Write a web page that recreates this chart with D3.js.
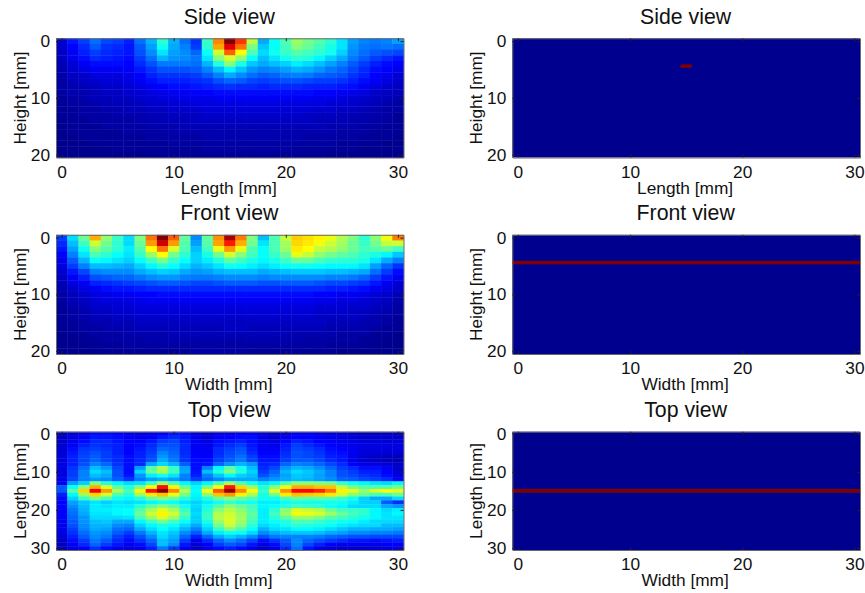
<!DOCTYPE html>
<html><head><meta charset="utf-8">
<script src="https://cdn.jsdelivr.net/npm/d3@7"></script>
<style>html,body{margin:0;padding:0;background:#fff}svg{display:block}text{font-family:"Liberation Sans",Arial,sans-serif;fill:#111}</style>
</head><body>
<svg id="c" width="865" height="593"></svg>
<script>
const sideView = [
[7,13,17,22,18,17,14,22,29,41,29,22,16,42,74,100,82,55,28,37,44,52,48,45,41,34,27,24,23,24,27],
[6,11,15,20,16,15,13,20,27,38,28,24,17,41,71,90,76,49,31,37,43,50,47,43,39,34,26,23,22,23,22],
[5,10,14,17,15,14,13,19,25,34,27,25,21,37,57,78,62,44,33,38,42,45,43,41,38,32,25,22,20,19,18],
[5,9,12,15,14,13,12,17,22,29,26,25,23,34,50,58,51,37,30,34,38,41,40,36,32,28,23,20,17,15,13],
[4,7,10,12,12,12,11,15,19,23,23,23,22,29,40,50,39,31,28,30,32,35,33,30,27,24,20,17,14,12,11],
[3,6,8,10,10,10,10,13,16,19,19,19,20,24,30,36,31,26,24,25,27,29,28,26,23,21,18,15,12,11,9],
[3,5,6,8,8,8,9,11,14,16,16,16,17,20,24,28,25,22,20,21,23,24,23,21,20,19,16,14,11,9,7],
[2,4,5,6,7,7,8,10,12,14,14,14,15,16,19,21,20,18,17,18,19,19,18,17,17,16,14,12,10,8,6],
[2,3,4,5,6,6,7,8,10,11,12,12,13,14,15,16,15,15,14,15,15,15,14,14,14,13,12,10,8,6,5],
[2,3,3,4,5,5,6,7,8,9,10,10,11,11,12,12,12,12,12,12,12,12,12,11,11,10,9,8,6,5,4],
[1,2,3,4,4,5,5,6,7,8,8,9,9,9,10,10,10,10,10,10,10,10,10,9,9,8,7,6,5,4,3],
[1,2,2,3,4,4,4,5,6,6,7,7,8,8,8,8,8,8,8,8,8,8,8,8,7,7,6,5,4,3,2],
[1,1,2,2,3,3,4,4,5,5,6,6,6,7,7,7,7,7,7,7,7,7,7,6,6,5,5,4,3,2,2],
[1,1,2,2,2,3,3,3,4,4,5,5,5,6,6,6,6,6,6,6,6,6,5,5,5,4,4,3,3,2,1],
[1,1,1,2,2,2,2,3,3,4,4,4,5,5,5,5,5,5,5,5,5,5,5,4,4,4,3,3,2,2,1],
[0,1,1,1,2,2,2,2,3,3,3,4,4,4,4,4,4,4,4,4,4,4,4,4,3,3,3,2,2,1,1],
[0,1,1,1,1,1,2,2,2,2,3,3,3,3,3,3,3,3,3,3,3,3,3,3,3,2,2,2,1,1,1],
[0,0,1,1,1,1,1,1,2,2,2,2,2,3,3,3,3,3,3,3,3,3,2,2,2,2,2,1,1,1,0],
[0,0,0,1,1,1,1,1,1,1,2,2,2,2,2,2,2,2,2,2,2,2,2,2,2,1,1,1,1,0,0],
[0,0,0,0,0,1,1,1,1,1,1,1,1,2,2,2,2,2,2,2,2,1,1,1,1,1,1,0,0,0,0],
[0,0,0,0,0,0,0,0,0,1,1,1,1,1,1,1,1,1,1,1,1,1,1,1,0,0,0,0,0,0,0]
];
const frontView = [
[17,33,47,70,51,42,33,49,76,100,78,46,25,46,73,96,75,49,30,44,56,67,65,63,60,54,49,41,50,61,75],
[15,30,43,57,48,41,33,47,72,92,72,45,27,45,71,85,70,48,34,44,53,66,64,61,57,53,47,42,48,56,57],
[13,27,38,50,45,41,35,45,62,76,58,44,30,43,60,72,60,44,37,44,52,64,62,56,54,51,47,43,45,47,43],
[11,24,34,44,41,37,34,42,52,62,48,41,32,39,48,58,50,43,37,42,47,60,56,51,48,46,44,41,39,36,31],
[9,20,29,37,36,34,32,37,43,49,42,37,32,35,40,46,43,39,36,39,43,47,47,44,42,41,41,39,34,28,24],
[8,17,24,30,30,29,28,32,36,40,37,33,29,31,34,38,37,35,33,35,37,38,38,37,36,36,36,34,27,21,16],
[6,13,18,24,25,25,25,28,30,32,31,28,26,27,29,30,30,30,28,29,30,31,31,31,30,30,29,28,22,17,12],
[5,10,14,19,20,21,21,23,25,26,26,24,23,23,24,25,25,25,24,25,25,25,25,25,24,24,23,21,17,13,10],
[4,8,10,14,15,16,17,18,19,20,20,19,18,18,19,20,20,20,19,19,20,20,20,19,18,18,17,16,13,10,7],
[3,6,8,10,12,13,13,14,15,15,15,15,15,15,15,15,15,15,15,15,15,15,15,15,14,14,13,12,10,8,6],
[2,4,6,8,9,10,10,11,11,12,12,12,12,12,12,12,12,12,12,12,12,12,12,11,11,10,10,9,7,6,4],
[2,4,5,7,8,8,8,9,10,10,10,10,10,10,10,10,10,10,10,10,10,10,10,9,9,8,8,7,6,5,3],
[1,3,4,6,6,7,7,8,8,8,8,8,8,8,8,8,8,8,8,8,8,8,8,7,7,7,6,6,5,4,2],
[1,2,3,5,5,6,6,7,7,7,7,7,7,7,7,7,7,7,7,7,7,7,7,6,6,6,5,5,4,3,2],
[1,2,3,4,4,5,5,6,6,6,6,6,6,6,6,6,6,6,6,6,6,6,6,5,5,5,5,4,3,2,1],
[1,1,2,3,3,4,4,5,5,5,5,5,5,5,5,5,5,5,5,5,5,5,5,5,4,4,4,3,3,2,1],
[1,1,2,2,3,3,3,4,4,4,4,4,4,4,4,5,5,4,4,4,4,4,4,4,3,3,3,3,2,1,1],
[0,1,1,2,2,2,3,3,3,3,4,4,4,4,4,4,4,4,4,4,4,3,3,3,3,2,2,2,1,1,0],
[0,0,1,1,2,2,2,2,3,3,3,3,3,3,3,3,3,3,3,3,3,3,2,2,2,2,2,1,1,0,0],
[0,0,0,1,1,1,2,2,2,2,2,2,2,2,2,2,2,2,2,2,2,2,2,2,1,1,1,1,0,0,0],
[0,0,0,0,1,1,1,1,1,1,1,1,2,2,2,2,2,1,1,1,1,1,1,1,1,0,0,0,0,0,0]
];
const topView = [
[5,7,9,12,12,11,9,8,9,11,13,12,8,6,9,9,11,11,8,6,8,10,10,9,8,7,6,5,5,5,5],
[5,8,10,13,13,12,10,9,10,13,15,13,9,7,10,11,12,12,8,6,9,11,11,10,9,8,7,6,6,6,6],
[6,9,12,15,15,13,11,11,13,17,18,14,10,8,12,13,14,12,9,8,11,14,13,11,10,9,8,7,7,7,7],
[6,10,14,16,15,14,11,12,15,19,19,15,10,9,13,15,17,13,10,9,13,17,15,13,11,10,9,8,8,8,8],
[7,12,16,17,16,14,11,13,16,21,20,15,10,10,15,17,19,14,10,10,14,18,17,15,12,11,9,8,8,8,8],
[7,13,17,19,17,14,11,14,17,24,21,15,11,10,15,18,20,15,11,11,15,19,18,16,13,12,10,7,7,7,7],
[8,14,18,20,17,15,12,14,18,26,22,16,11,11,16,19,22,17,12,12,16,19,18,17,14,13,9,7,6,5,4],
[8,14,18,21,18,15,12,15,19,28,23,16,12,12,17,20,23,18,13,13,17,20,20,18,15,13,8,6,5,4,3],
[8,14,19,24,21,16,12,15,28,33,29,20,12,13,21,26,29,26,14,15,21,24,23,21,18,15,11,8,8,7,6],
[8,16,22,30,26,18,12,27,45,54,42,27,12,24,36,46,38,30,15,18,26,29,28,25,21,17,15,12,12,10,6],
[8,17,24,33,30,19,12,32,47,53,43,28,13,30,40,49,40,32,17,21,29,33,31,28,24,19,17,14,14,11,7],
[8,17,24,30,28,19,13,26,35,38,34,24,14,24,31,36,32,30,19,23,27,31,30,27,24,19,18,16,15,12,8],
[9,18,24,26,25,20,16,23,27,29,27,23,17,21,25,28,28,28,24,26,28,30,29,27,25,21,20,18,17,15,10],
[10,27,32,49,40,36,33,34,42,52,44,36,32,36,44,52,44,38,34,36,44,50,50,49,48,42,38,36,34,33,36],
[20,37,50,70,58,46,40,49,62,86,63,47,36,48,61,85,66,52,40,50,60,70,70,68,68,56,48,45,44,44,48],
[20,46,66,88,72,54,44,63,86,100,74,55,37,62,79,98,74,62,42,59,73,87,87,84,76,63,60,52,59,62,59],
[14,36,52,66,57,44,40,52,64,68,60,48,36,50,68,72,63,53,39,48,64,68,67,66,64,57,50,47,43,43,47],
[12,32,42,49,44,38,36,40,47,50,47,40,35,40,47,50,47,44,38,38,44,47,46,46,45,42,38,32,28,28,33],
[11,27,31,34,32,34,33,34,36,38,37,34,32,35,38,42,39,38,35,35,37,39,38,38,38,38,35,32,32,20,15],
[11,25,30,35,34,35,35,40,46,50,46,38,33,38,45,50,47,43,36,37,40,43,42,41,38,36,33,33,33,28,26],
[11,23,29,35,35,36,37,45,53,59,53,42,32,40,50,55,50,44,35,41,50,58,56,54,47,43,42,41,36,33,35],
[11,22,28,34,34,36,37,47,57,63,57,45,33,42,54,57,52,46,35,43,52,61,60,58,52,47,43,41,36,34,36],
[10,21,26,33,33,33,34,44,52,59,53,42,32,42,55,58,53,45,35,41,46,52,52,49,45,43,41,38,36,34,34],
[10,20,26,30,31,28,28,36,43,48,43,37,32,39,52,58,52,43,35,37,40,44,44,42,40,38,37,35,33,33,33],
[9,19,25,29,29,25,24,32,36,39,37,33,28,35,48,57,50,41,33,35,38,41,40,39,37,35,34,33,33,30,30],
[9,17,24,28,27,22,21,28,33,37,34,29,24,32,42,49,44,37,29,33,34,36,36,35,33,31,29,29,28,28,27],
[8,16,22,26,25,20,17,23,29,34,31,25,20,28,35,38,37,33,25,28,30,31,31,30,28,27,25,25,24,24,23],
[7,14,20,25,23,17,14,19,25,33,29,21,14,21,28,32,29,25,19,23,24,24,24,23,21,20,19,19,18,18,18],
[6,12,17,23,20,15,12,16,21,30,27,17,9,15,21,25,22,18,12,16,20,25,21,19,17,15,13,13,12,13,14],
[5,10,15,21,17,13,10,12,18,30,25,13,7,11,17,20,18,13,8,12,18,24,18,14,11,9,9,9,9,10,11],
[4,7,10,16,12,9,7,9,14,23,17,9,5,8,12,14,12,8,5,8,15,22,13,8,6,5,6,6,6,7,8]
];
const xTicks = [0,10,20,30];
const depthTicks = [0,10,20];
const lengthTicks = [0,10,20,30];
const targetSideX = [14.5,15.5], targetSideY = [4.1,4.7];
const targetFrontX = [-0.5,30.5], targetFrontY = [4.1,4.7];
const targetTopX = [-0.5,30.5], targetTopY = [14.5,15.5];
const jet = d3.scaleLinear().domain([0,.11,.365,.62,.873,1])
  .range(["#00008f","#0000ff","#00ffff","#ffff00","#ff0000","#800000"]).clamp(true);

const svg = d3.select("#c");
const colX = [[56,403.5],[512.3,860]];
const rowY = [[38.3,157.5],[234.8,354],[431.7,550]];

function panel(col,row,title,xl,yl,yTicks,yN,grid,target){
  const [x0,x1]=colX[col],[y0,y1]=rowY[row];
  const x=d3.scaleLinear().domain([-0.5,30.5]).range([x0,x1]);
  const y=d3.scaleLinear().domain([-0.5,yN+0.5]).range([y0,y1]);
  const g=svg.append("g");
  if(grid){
    g.selectAll("g.r").data(grid).join("g").each(function(r,j){
      d3.select(this).selectAll("rect").data(r).join("rect")
        .attr("x",(d,i)=>x(i-0.5)).attr("y",y(j-0.5))
        .attr("width",x(0.5)-x(-0.5)+0.4).attr("height",y(0.5)-y(-0.5)+0.4)
        .attr("fill",d=>jet(d/100));
    });
  } else {
    g.append("rect").attr("x",x0).attr("y",y0).attr("width",x1-x0).attr("height",y1-y0).attr("fill",jet(0));
    g.append("rect").attr("x",x(target[0][0])).attr("width",x(target[0][1])-x(target[0][0]))
     .attr("y",y(target[1][0])).attr("height",y(target[1][1])-y(target[1][0])).attr("fill",jet(1));
  }
  const axes=[
    [d3.axisBottom(x).tickValues(xTicks).tickSizeInner(-3).tickSizeOuter(0).tickPadding(8),`translate(0,${y1})`],
    [d3.axisLeft(y).tickValues(yTicks).tickSizeInner(-3).tickSizeOuter(0).tickPadding(6),`translate(${x0},0)`],
    [d3.axisTop(x).tickValues(xTicks).tickSizeInner(-3).tickSizeOuter(0).tickFormat(""),`translate(0,${y0})`],
    [d3.axisRight(y).tickValues(yTicks).tickSizeInner(-3).tickSizeOuter(0).tickFormat(""),`translate(${x1},0)`]
  ];
  axes.forEach(([a,t])=>{
    const ag=g.append("g").attr("transform",t).call(a);
    ag.select(".domain").attr("stroke","#6a6a6a").attr("stroke-width",1);
    ag.selectAll(".tick line").attr("stroke","#222").attr("stroke-width",1);
    ag.selectAll("text").style("font-family",'"Liberation Sans"').style("font-size","17.3px").attr("fill","#111");
  });
  g.append("text").attr("x",(x0+x1)/2-0.5).attr("y",y0-14.6).attr("text-anchor","middle").style("font-size","21.3px").text(title);
  g.append("text").attr("x",(x0+x1)/2-1).attr("y",y1+36).attr("text-anchor","middle").style("font-size","17.3px").text(xl);
  g.append("text").attr("transform",`translate(${x0-30},${(y0+y1)/2}) rotate(-90)`).attr("text-anchor","middle").style("font-size","17.3px").text(yl);
}
panel(0,0,"Side view","Length [mm]","Height [mm]",depthTicks,20,sideView);
panel(0,1,"Front view","Width [mm]","Height [mm]",depthTicks,20,frontView);
panel(0,2,"Top view","Width [mm]","Length [mm]",lengthTicks,30,topView);
panel(1,0,"Side view","Length [mm]","Height [mm]",depthTicks,20,null,[targetSideX,targetSideY]);
panel(1,1,"Front view","Width [mm]","Height [mm]",depthTicks,20,null,[targetFrontX,targetFrontY]);
panel(1,2,"Top view","Width [mm]","Length [mm]",lengthTicks,30,null,[targetTopX,targetTopY]);
</script>
</body></html>
